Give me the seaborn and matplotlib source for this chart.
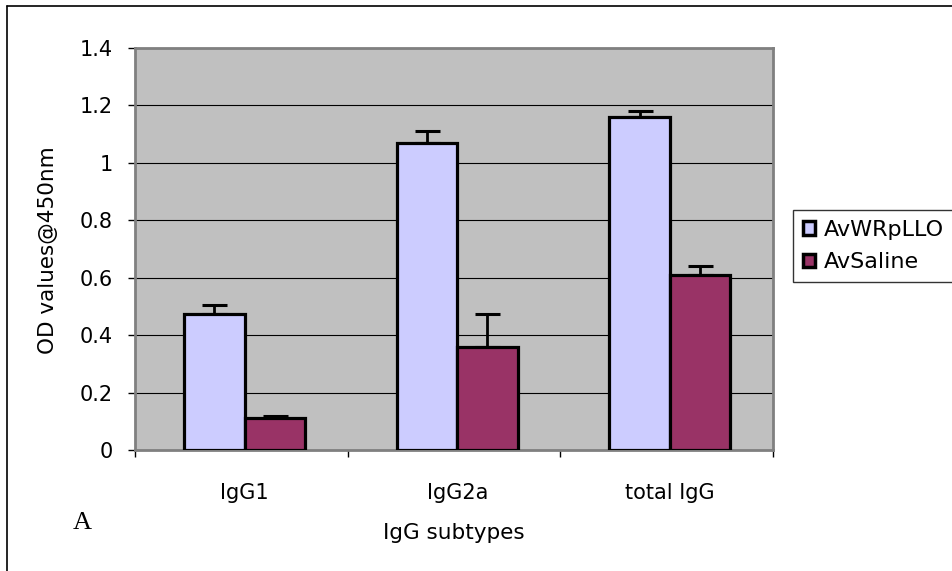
import matplotlib
matplotlib.use("Agg")
import matplotlib.pyplot as plt
import seaborn as sns
import pandas as pd
from matplotlib.lines import Line2D
from matplotlib.patches import Patch

categories = ["IgG1", "IgG2a", "total IgG"]
series_names = ["AvWRpLLO", "AvSaline"]
wr_values = [0.475, 1.07, 1.16]
wr_errors = [0.03, 0.04, 0.02]
saline_values = [0.11, 0.36, 0.61]
saline_errors = [0.01, 0.115, 0.03]
y_ticks = [0, 0.2, 0.4, 0.6, 0.8, 1, 1.2, 1.4]
y_tick_labels = ["0", "0.2", "0.4", "0.6", "0.8", "1", "1.2", "1.4"]

colors = {"AvWRpLLO": "#CCCCFF", "AvSaline": "#993366"}

df = pd.DataFrame({
    "subtype": categories * 2,
    "group": [series_names[0]] * 3 + [series_names[1]] * 3,
    "od": wr_values + saline_values,
    "err": wr_errors + saline_errors,
})

sns.set_style("white")
plt.rcParams["font.family"] = ["DejaVu Sans"]
plt.rcParams["text.color"] = "black"
plt.rcParams["xtick.color"] = "black"
plt.rcParams["ytick.color"] = "black"
plt.rcParams["axes.labelcolor"] = "black"

fig = plt.figure(figsize=(9.53, 5.71), dpi=100)
ax = fig.add_axes([135 / 953, 1 - 450 / 571, (773 - 135) / 953, (450 - 48) / 571])
ax.set_facecolor("#C0C0C0")

sns.barplot(data=df, x="subtype", y="od", hue="group", order=categories,
            hue_order=series_names, palette=colors, width=0.57,
            edgecolor="black", linewidth=2.3, errorbar=None, ax=ax,
            legend=False, saturation=1, zorder=3)

# error bars (upper only) at library bar positions
for i, p in enumerate(ax.patches[:6]):
    x = p.get_x() + p.get_width() / 2
    h = p.get_height()
    gi = 0 if i < 3 else 1
    ci = i % 3
    e = (wr_errors if gi == 0 else saline_errors)[ci]
    ax.errorbar([x], [h], yerr=[[0], [e]], fmt="none", ecolor="black",
                elinewidth=2.0, capsize=9, capthick=2.2, zorder=2)

ax.set_ylim(0, 1.4)
ax.set_xlim(-0.515, 2.485)
ax.set_yticks(y_ticks)
ax.set_yticklabels(y_tick_labels)
ax.yaxis.grid(True, color="black", linewidth=0.8, zorder=0)
ax.set_axisbelow(True)

ax.set_xticks([0, 1, 2])
ax.set_xticklabels(categories)
ax.set_xticks([-0.515, 0.485, 1.485, 2.485], minor=True)
ax.tick_params(axis="x", which="major", length=0, pad=24, labelsize=15, labelcolor="black")
ax.tick_params(axis="x", which="minor", length=5, width=1, color="black", direction="out", bottom=True)
ax.tick_params(axis="y", length=5, width=1, color="black", direction="out", left=True, pad=11,
               labelsize=15, labelcolor="black")

for s in ax.spines.values():
    s.set_color("#808080")
    s.set_linewidth(2)

ax.set_xlabel("")
ax.set_ylabel("")
fig.text(48 / 953, 1 - 250 / 571, "OD values@450nm", rotation=90, ha="center", va="center",
         fontsize=15.5, color="black")
fig.text(454 / 953, 1 - 533 / 571, "IgG subtypes", ha="center", va="center", fontsize=15.5, color="black")
fig.text(82 / 953, 1 - 523 / 571, "A", ha="center", va="center", fontsize=19, family="Liberation Serif",
         color="black")

handles = [Patch(facecolor=colors[n], edgecolor="black", linewidth=2.5) for n in series_names]
leg = fig.legend(handles, series_names, loc="upper left",
                 bbox_to_anchor=(793 / 953, 1 - 210 / 571), frameon=True, fancybox=False,
                 fontsize=16, handlelength=0.55, handleheight=0.55, handletextpad=0.4,
                 borderpad=0.45, labelspacing=0.55, borderaxespad=0)
leg.get_frame().set_edgecolor("black")
leg.get_frame().set_linewidth(1)
for t in leg.get_texts():
    t.set_color("black")

# outer chart border (top and left visible)
fig.add_artist(Line2D([7 / 953, 1.0], [1 - 5.5 / 571, 1 - 5.5 / 571], transform=fig.transFigure,
                      color="black", linewidth=1.2))
fig.add_artist(Line2D([7 / 953, 7 / 953], [0, 1 - 5.5 / 571], transform=fig.transFigure,
                      color="black", linewidth=1.2))

fig.savefig("out.png", dpi=100)
